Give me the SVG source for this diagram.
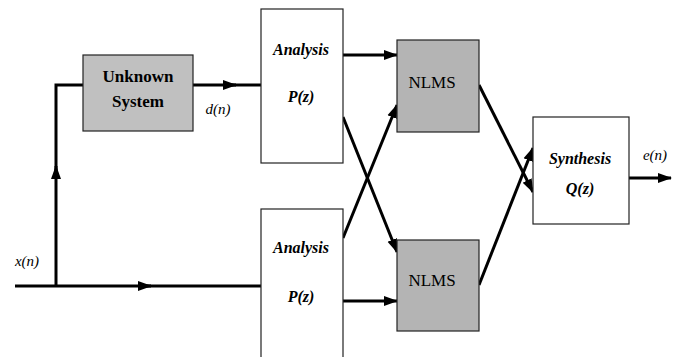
<svg xmlns="http://www.w3.org/2000/svg" width="682" height="357" viewBox="0 0 682 357">
<defs>
<marker id="ah" markerUnits="userSpaceOnUse" markerWidth="14" markerHeight="12" refX="13" refY="6" orient="auto">
<path d="M0,1 L14,6 L0,11 Z" fill="#000"/>
</marker>
<style>
.wire{stroke:#000;stroke-width:3;fill:none}
.box{stroke:#222;stroke-width:1.2}
text{font-family:'Liberation Serif','Times New Roman','DejaVu Serif',serif;fill:#000;text-anchor:middle}
.bi{font-weight:bold;font-style:italic;font-size:16px}
.lab{font-style:italic;font-size:15px}
</style>
</defs>
<rect width="682" height="357" fill="#fff"/>
<g id="connectors">
<path class="wire" d="M15,286 L151,286" marker-end="url(#ah)"/>
<path class="wire" d="M145,286 L261,286"/>
<path class="wire" d="M56,286 L56,166" marker-end="url(#ah)"/>
<path class="wire" d="M56,172 L56,85 L83,85"/>
<path class="wire" d="M193,85 L236,85" marker-end="url(#ah)"/>
<path class="wire" d="M230,85 L261,85"/>
<path class="wire" d="M343,55 L397,55" marker-end="url(#ah)"/>
<path class="wire" d="M343,117 L397,252" marker-end="url(#ah)"/>
<path class="wire" d="M343,238 L397,105" marker-end="url(#ah)"/>
<path class="wire" d="M343,301 L397,301" marker-end="url(#ah)"/>
<path class="wire" d="M479,85 L533,192" marker-end="url(#ah)"/>
<path class="wire" d="M479,285 L533,148" marker-end="url(#ah)"/>
<path class="wire" d="M629,178 L671,178" marker-end="url(#ah)"/>
</g>
<g id="unknown">
<rect class="box" x="83" y="55" width="110" height="76" fill="#c0c0c0"/>
<text x="138" y="82" font-size="17" font-weight="bold">Unknown</text>
<text x="138" y="107" font-size="17" font-weight="bold">System</text>
</g>
<g id="analysis1">
<rect class="box" x="261" y="9" width="82" height="154" fill="#fff"/>
<text class="bi" x="301" y="55">Analysis</text>
<text class="bi" x="301" y="102">P(z)</text>
</g>
<g id="analysis2">
<rect class="box" x="261" y="209" width="82" height="160" fill="#fff"/>
<text class="bi" x="301" y="253">Analysis</text>
<text class="bi" x="301" y="302">P(z)</text>
</g>
<g id="nlms1">
<rect class="box" x="397" y="40" width="82" height="92" fill="#b4b4b4"/>
<text x="432" y="88" font-size="17">NLMS</text>
</g>
<g id="nlms2">
<rect class="box" x="397" y="240" width="82" height="91" fill="#b4b4b4"/>
<text x="432" y="286" font-size="17">NLMS</text>
</g>
<g id="synthesis">
<rect class="box" x="533" y="117" width="96" height="107" fill="#fff"/>
<text class="bi" x="580" y="164">Synthesis</text>
<text class="bi" x="580" y="194">Q(z)</text>
</g>
<g id="labels">
<text class="lab" x="218" y="114">d(n)</text>
<text class="lab" x="27" y="266">x(n)</text>
<text class="lab" x="655" y="160">e(n)</text>
</g>
</svg>
